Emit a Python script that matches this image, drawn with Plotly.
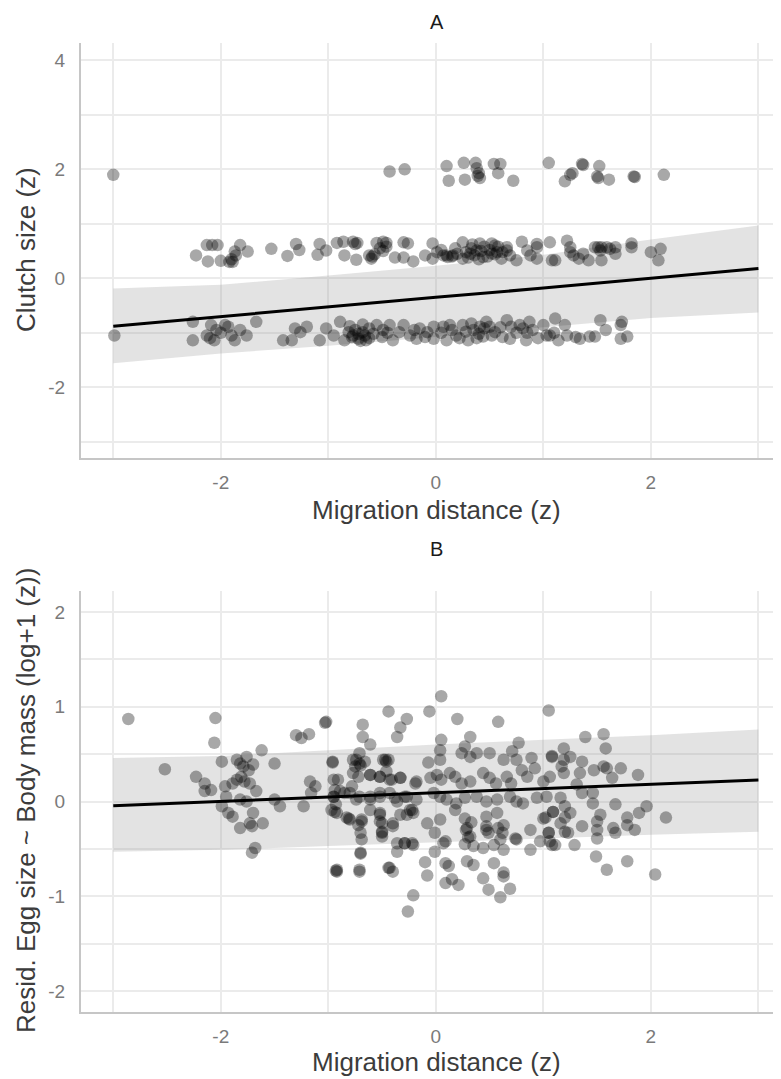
import plotly.graph_objects as go

# ---------------- Panel A data (Clutch size vs migration distance) ----------------
a_x = [
    # top band
    -3.0, -0.43, -0.29, 0.10, 0.12, 0.26, 0.27, 0.37, 0.38, 0.40, 0.41, 0.39, 0.54, 0.60, 0.58, 0.72,
    1.05, 1.20, 1.25, 1.27, 1.36, 1.37, 1.52, 1.50, 1.51, 1.61, 1.84, 1.85, 2.12,
    # middle band, left
    -2.23, -2.13, -2.12, -2.08, -2.03, -2.0, -1.92, -1.89, -1.90, -1.87, -1.86, -1.82, -1.75, -1.53,
    -1.38, -1.30, -1.27, -1.10, -1.08, -1.02, -0.92, -0.86, -0.85, -0.77, -0.75, -0.73, -0.74, -0.62,
    -0.59, -0.60, -0.57, -0.55, -0.52, -0.49, -0.49, -0.46, -0.46, -0.38, -0.30, -0.30, -0.26, -0.21,
    -0.10, -0.03, -0.03,
    # middle band, right
    0.25, 0.34, 0.41, 0.52, 0.55, 0.66, 0.80, 0.94, 0.94, 1.06, 1.22, 1.25, 1.51, 1.54, 1.67, 1.82,
    1.82, 2.0, 2.09,
    0.01, 0.07, 0.11, 0.16, 0.25, 0.32, 0.38, 0.44, 0.52, 0.57, 0.61, 0.69, 0.75, 0.66, 0.85, 0.88,
    0.94, 1.08, 1.11, 1.25, 1.28, 1.33, 1.37, 1.42, 1.48, 1.53, 1.59, 1.62, 1.67, 1.54, 2.07,
    0.10, 0.15, 0.20, 0.28, 0.33, 0.36, 0.42, 0.45, 0.48, 0.50, 0.55, 0.58, 0.62, 0.40, 0.30, 0.18, 0.05,
    # bottom band, left
    -2.99, -2.26, -2.26, -2.13, -2.09, -2.06, -2.04, -1.96, -1.93, -1.90, -1.87, -1.82, -1.76, -1.67,
    -2.0, -2.1, -1.42, -1.34, -1.31, -1.26, -1.20,
    -1.08, -1.02, -0.95, -0.89, -0.85, -0.81, -0.77, -0.72, -0.68, -0.65, -0.62, -0.55, -0.49, -0.43,
    -0.40, -0.34, -0.30, -0.24, -0.18, -0.15, -0.08, -0.02,
    -0.78, -0.72, -0.70, -0.66, -0.62, -0.75, -0.58, -0.80, -0.68, -0.5, -0.45, -0.2, -0.1,
    # bottom band, right
    -0.02, 0.07, 0.10, 0.13, 0.19, 0.25, 0.30, 0.33, 0.41, 0.44, 0.47, 0.50, 0.55, 0.66, 0.69, 0.70,
    0.78, 0.81, 0.84, 0.87, 0.90, 1.00, 1.03, 1.06, 1.11, 1.14, 1.20, 1.22, 1.34, 1.43, 1.48, 1.53,
    1.58, 1.72, 1.73, 1.72, 1.78,
    0.05, 0.15, 0.22, 0.35, 0.38, 0.45, 0.52, 0.6, 0.62, 0.75, 0.95, 1.1, 1.3, 0.85, 0.4, 0.28,
]
a_y = [
    1.90, 1.96, 2.00, 2.06, 1.79, 2.12, 1.81, 2.12, 2.02, 1.93, 1.84, 1.88, 2.10, 2.10, 1.93, 1.79,
    2.12, 1.78, 1.90, 1.93, 2.10, 2.08, 2.06, 1.87, 1.84, 1.81, 1.87, 1.86, 1.90,
    0.42, 0.61, 0.31, 0.61, 0.61, 0.32, 0.30, 0.30, 0.35, 0.49, 0.42, 0.61, 0.49, 0.54,
    0.41, 0.63, 0.52, 0.43, 0.63, 0.51, 0.65, 0.67, 0.42, 0.67, 0.63, 0.65, 0.34, 0.42,
    0.40, 0.36, 0.44, 0.65, 0.55, 0.67, 0.50, 0.65, 0.58, 0.38, 0.66, 0.38, 0.64, 0.31,
    0.42, 0.36, 0.64,
    0.66, 0.62, 0.64, 0.64, 0.60, 0.57, 0.67, 0.63, 0.57, 0.66, 0.69, 0.57, 0.57, 0.57, 0.57, 0.64,
    0.57, 0.48, 0.54,
    0.48, 0.42, 0.39, 0.42, 0.36, 0.45, 0.51, 0.39, 0.45, 0.48, 0.36, 0.42, 0.33, 0.51, 0.51, 0.42,
    0.36, 0.33, 0.33, 0.48, 0.42, 0.36, 0.45, 0.33, 0.57, 0.51, 0.57, 0.54, 0.45, 0.33, 0.33,
    0.42, 0.40, 0.45, 0.48, 0.55, 0.42, 0.50, 0.58, 0.40, 0.52, 0.44, 0.58, 0.48, 0.35, 0.38, 0.55, 0.52,
    -1.05, -0.80, -1.14, -1.05, -0.86, -1.14, -0.95, -0.86, -0.89, -1.05, -1.14, -0.95, -1.05, -0.80,
    -1.0, -1.1, -1.14, -1.14, -0.92, -0.99, -0.89,
    -1.14, -0.92, -1.05, -0.80, -1.14, -0.99, -1.05, -1.11, -0.99, -1.14, -0.92, -0.86, -0.95, -0.86,
    -1.14, -0.99, -0.86, -1.05, -1.11, -0.92, -0.99, -0.89,
    -1.08, -1.02, -1.15, -1.05, -1.10, -0.95, -1.02, -0.88, -0.85, -1.08, -1.0, -0.95, -1.08,
    -1.11, -0.89, -1.14, -0.86, -1.05, -0.86, -1.14, -0.83, -0.89, -1.07, -0.80, -0.89, -0.99, -0.77,
    -1.11, -0.89, -0.86, -0.92, -1.14, -0.80, -0.95, -0.86, -1.05, -1.05, -0.74, -1.14, -0.86, -1.05,
    -1.11, -1.07, -1.07, -0.77, -0.95, -0.86, -0.80, -1.11, -1.07,
    -1.0, -0.95, -1.1, -0.95, -1.1, -0.92, -1.05, -0.9, -1.08, -1.0, -1.1, -1.0, -1.08, -1.0, -1.02, -0.98,
]

# regression line + confidence band, panel A
a_fit_x = [-3, -2, -1, 0, 1, 2, 3]
a_fit_y = [-0.88, -0.70, -0.53, -0.35, -0.18, 0.0, 0.18]
a_upper = [-0.19, -0.12, 0.05, 0.23, 0.43, 0.71, 0.97]
a_lower = [-1.56, -1.38, -1.24, -1.08, -0.90, -0.73, -0.63]

# ---------------- Panel B data (residual egg size) ----------------
b_x = [
    -2.86, -2.05, -2.06, -2.52, -2.23, -2.15, -2.15, -2.09, -1.99,
    -1.85, -1.82, -1.79, -1.76, -1.74, -1.70, -1.62, -1.50,
    -1.96, -1.95, -1.89, -1.85, -1.81, -1.78, -1.73, -1.67, -1.82, -1.76,
    -1.99, -1.93, -1.89, -1.82, -1.73, -1.70, -1.71, -1.61,
    -1.71, -1.68, -1.50, -1.45,
    -1.30, -1.25, -1.18, -1.17, -1.12, -1.16, -1.23,
    -1.03, -1.02, -0.96, -0.95, -0.94, -0.95, -0.93, -0.94, -0.93,
    -0.92, -0.71, -0.70, -0.44, -0.33, -0.36, -0.27,
    -0.68, -0.68, -0.61, -0.71, -0.74, -0.75, -0.77,
    -0.61, -0.52, -0.43, -0.33, -0.47, -0.44,
    -0.89, -0.80, -0.71, -0.61, -0.52, -0.43, -0.36, -0.27, -0.19,
    -0.97, -0.83, -0.80, -0.69, -0.61, -0.52, -0.52, -0.50, -0.50, -0.40, -0.33, -0.24, -0.21,
    -0.36, -0.29, -0.22, -0.43,
    0.05, -0.06, 0.20, 0.58, 1.05,
    0.05, 0.04, 0.32, 0.27, 0.77, 1.19,
    -0.96, -0.77, -0.71, -0.49, -0.46, -0.07, 0.04, 0.24, 0.32, 0.38, 0.50, 0.63, 0.71, 0.75, 0.89, 1.08, 1.19,
    -0.91, -0.78, -0.72, -0.61, -0.52, -0.46, -0.41, -0.33, -0.18, -0.05, 0.01, 0.05, 0.13, 0.18, 0.24,
    0.32, 0.44, 0.50, 0.56, 0.66, 0.70, 0.80, 0.85, 0.92, 1.00, 1.06, 1.19,
    -0.95, -0.85, -0.74, -0.61, -0.52, -0.38, -0.29, -0.18, -0.02, 0.04, 0.10, 0.19, 0.27, 0.38, 0.47,
    0.57, 0.69, 0.75, 0.81, 0.94, 1.03, 1.16, 1.20,
    -0.92, -0.81, -0.69, -0.52, -0.50, -0.50, -0.40, -0.27, -0.22, -0.08, 0.04, -0.01, 0.09, 0.18, 0.27,
    0.29, 0.32, 0.47, 0.47, 0.49, 0.57, 0.63, 0.74, 0.88, 1.00, 1.05, 1.09, 1.16, 1.20,
    -0.36, -0.29, -0.21, -0.01, 0.07, 0.35, 0.44, 0.54, 0.63, 0.75, 0.88, 0.97, 1.08,
    -0.92, -0.71, -0.70, -0.44, -0.40, -0.10, -0.08, 0.09, 0.12, 0.09, 0.15, 0.21, 0.29, 0.35, 0.44,
    0.54, 0.49, 0.63, 0.63, 0.69, 0.60, -0.21, -0.26,
    0.28, 0.30, 0.27, 0.33, 0.62, 0.60, 0.58, -0.70, -0.66, -0.72, -0.70, -0.69, 0.47,
    1.39, 1.56, 1.58, 1.25, 1.08, 1.17,
    1.36, 1.34, 1.31, 1.47, 1.56, 1.59, 1.64, 1.72, 1.88,
    1.36, 1.46, 1.46, 1.67, 1.96, 1.89, 2.14,
    1.02, 1.09, 1.20, 1.25, 1.36, 1.50, 1.53, 1.50, 1.50, 1.65, 1.67, 1.78, 1.78, 1.85,
    1.05, 1.06, 1.11, 1.23, 1.29,
    1.49, 1.59, 1.78, 2.04,
]
b_y = [
    0.87, 0.88, 0.62, 0.34, 0.26, 0.19, 0.11, 0.12, 0.42,
    0.44, 0.40, 0.37, 0.47, 0.33, 0.39, 0.54, 0.40,
    0.16, 0.05, 0.19, 0.23, 0.26, 0.21, 0.19, 0.11, 0.02, 0.00,
    -0.05, -0.12, -0.16, -0.28, -0.23, -0.12, -0.26, -0.23,
    -0.54, -0.49, 0.02, -0.05,
    0.70, 0.67, 0.71, 0.21, 0.16, 0.09, -0.05,
    0.83, 0.84, 0.41, 0.23, 0.12, 0.05, -0.03, -0.11, -0.73,
    -0.72, -0.72, -0.54, 0.95, 0.78, 0.68, 0.87,
    0.81, 0.68, 0.60, 0.51, 0.44, 0.37, 0.30,
    0.28, 0.26, 0.23, 0.25, 0.44, 0.44,
    0.11, 0.09, 0.05, 0.02, 0.05, 0.09, 0.00, 0.05, 0.19,
    -0.09, -0.17, -0.19, -0.19, -0.09, -0.12, -0.21, -0.32, -0.37, -0.26, -0.14, -0.09, -0.12,
    -0.44, -0.44, -0.44, -0.70,
    1.11, 0.95, 0.87, 0.84, 0.96,
    0.65, 0.54, 0.68, 0.58, 0.62, 0.56,
    0.42, 0.44, 0.40, 0.44, 0.42, 0.41, 0.44, 0.51, 0.47, 0.51, 0.51, 0.44, 0.53, 0.44, 0.46, 0.48, 0.44,
    0.23, 0.16, 0.26, 0.28, 0.26, 0.32, 0.23, 0.25, 0.21, 0.25, 0.28, 0.23, 0.30, 0.26, 0.19,
    0.21, 0.30, 0.25, 0.19, 0.26, 0.19, 0.33, 0.26, 0.35, 0.21, 0.26, 0.30,
    0.05, 0.09, 0.02, 0.05, 0.09, 0.04, 0.05, 0.02, 0.09, 0.05, 0.02, -0.02, 0.04, 0.05, 0.00,
    0.02, 0.05, 0.00, -0.02, 0.04, 0.05, 0.04, -0.05,
    -0.12, -0.18, -0.21, -0.14, -0.23, -0.33, -0.23, -0.14, -0.09, -0.23, -0.19, -0.33, -0.42, -0.09, -0.18,
    -0.28, -0.37, -0.16, -0.26, -0.33, -0.12, -0.25, -0.39, -0.30, -0.18, -0.33, -0.11, -0.23, -0.32,
    -0.53, -0.44, -0.46, -0.53, -0.44, -0.47, -0.49, -0.46, -0.51, -0.40, -0.51, -0.42, -0.46,
    -0.74, -0.74, -0.55, -0.70, -0.74, -0.64, -0.78, -0.65, -0.68, -0.86, -0.82, -0.88, -0.63, -0.67, -0.81,
    -0.65, -0.93, -0.75, -0.79, -0.92, -1.01, -0.99, -1.16,
    -0.30, -0.38, -0.45, -0.22, -0.33, -0.40, -0.28, 0.38, 0.42, -0.25, -0.33, -0.40, -0.30,
    0.68, 0.71, 0.56, 0.47, 0.47, 0.37,
    0.42, 0.30, 0.18, 0.33, 0.37, 0.35, 0.25, 0.35, 0.28,
    0.09, 0.09, -0.02, -0.03, -0.05, -0.12, -0.17,
    -0.17, -0.11, -0.17, -0.12, -0.26, -0.21, -0.14, -0.30, -0.39, -0.28, -0.33, -0.17, -0.25, -0.30,
    -0.33, -0.42, -0.46, -0.33, -0.46,
    -0.58, -0.72, -0.63, -0.77,
]

b_fit_x = [-3, -2, -1, 0, 1, 2, 3]
b_fit_y = [-0.045, 0.0, 0.046, 0.09, 0.137, 0.183, 0.228]
b_upper = [0.46, 0.48, 0.54, 0.60, 0.65, 0.70, 0.76]
b_lower = [-0.53, -0.51, -0.47, -0.43, -0.39, -0.35, -0.32]

# ---------------- figure ----------------
PAGE_W, PAGE_H = 781, 1079
OFF = 8  # default body margin of the html page
W, H = PAGE_W - OFF, PAGE_H - OFF
FONT = "Liberation Sans, Arial, sans-serif"
PT_COLOR = "rgba(0,0,0,0.34)"
BAND_COLOR = "rgba(153,153,153,0.28)"

fig = go.Figure()

def add_panel(xs, ys, fx, fy, up, lo, xa, ya):
    fig.add_trace(go.Scatter(x=fx, y=lo, mode="lines", line=dict(width=0, color=BAND_COLOR),
                             hoverinfo="skip", showlegend=False, xaxis=xa, yaxis=ya))
    fig.add_trace(go.Scatter(x=fx, y=up, mode="lines", line=dict(width=0, color=BAND_COLOR),
                             fill="tonexty", fillcolor=BAND_COLOR,
                             hoverinfo="skip", showlegend=False, xaxis=xa, yaxis=ya))
    fig.add_trace(go.Scatter(x=xs, y=ys, mode="markers",
                             marker=dict(size=12.5, color=PT_COLOR, line=dict(width=0)),
                             showlegend=False, xaxis=xa, yaxis=ya))
    fig.add_trace(go.Scatter(x=fx, y=fy, mode="lines", line=dict(color="black", width=3),
                             showlegend=False, xaxis=xa, yaxis=ya))

add_panel(a_x, a_y, a_fit_x, a_fit_y, a_upper, a_lower, "x", "y")
add_panel(b_x, b_y, b_fit_x, b_fit_y, b_upper, b_lower, "x2", "y2")

def px2paper(px):
    return (px - OFF) / W

def py2paper(py):
    return 1 - (py - OFF) / H

GRID = "#ebebeb"
AXLINE = "#c6c6c6"
TICKC = "#7a7a7a"
TITLEC = "#3c3c3c"

xcommon = dict(range=[-3.30, 3.21], tickvals=[-2, 0, 2], ticktext=["-2", "0", "2"],
               showgrid=True, gridcolor=GRID, gridwidth=2,
               minor=dict(tickvals=[-3, -1, 1, 3], showgrid=True, gridcolor=GRID, gridwidth=1.6),
               zeroline=False, showline=True, linecolor=AXLINE, linewidth=2,
               ticks="", ticklabelstandoff=6, automargin=False,
               tickfont=dict(family=FONT, size=19, color=TICKC),
               domain=[px2paper(81), 1.0], fixedrange=True)

ycommon = dict(showgrid=True, gridcolor=GRID, gridwidth=2, zeroline=False,
               showline=True, linecolor=AXLINE, linewidth=2, ticks="", ticklabelstandoff=10,
               automargin=False,
               tickfont=dict(family=FONT, size=19, color=TICKC), fixedrange=True)

fig.update_layout(
    width=W, height=H,
    margin=dict(l=0, r=0, t=0, b=0, pad=0),
    paper_bgcolor="white", plot_bgcolor="white",
    xaxis=dict(**xcommon, anchor="y"),
    xaxis2=dict(**xcommon, anchor="y2"),
    yaxis=dict(**ycommon, anchor="x", range=[-3.30, 4.32],
               tickvals=[-2, 0, 2, 4], ticktext=["-2", "0", "2", "4"],
               minor=dict(tickvals=[-3, -1, 1, 3], showgrid=True, gridcolor=GRID, gridwidth=1.6),
               domain=[py2paper(458), py2paper(43)]),
    yaxis2=dict(**ycommon, anchor="x2", range=[-2.22, 2.22],
                tickvals=[-2, -1, 0, 1, 2], ticktext=["-2", "-1", "0", "1", "2"],
                minor=dict(tickvals=[-1.5, -0.5, 0.5, 1.5], showgrid=True, gridcolor=GRID, gridwidth=1.6),
                domain=[py2paper(1012), py2paper(591)]),
    showlegend=False,
)

def ann(text, x, y, size, color, angle=0):
    fig.add_annotation(text=text, x=px2paper(x), y=py2paper(y), xref="paper", yref="paper",
                       xanchor="center", yanchor="middle", showarrow=False, textangle=angle,
                       font=dict(family=FONT, size=size, color=color))

ann("A", 437, 22, 20, "#1a1a1a")
ann("Migration distance (z)", 437, 510, 26, TITLEC)
ann("Clutch size (z)", 26, 250, 26, TITLEC, -90)
ann("B", 437, 549, 20, "#1a1a1a")
ann("Migration distance (z)", 437, 1062, 26, TITLEC)
ann("Resid. Egg size ~ Body mass (log+1 (z))", 26, 801, 26, TITLEC, -90)

fig.write_html("out.html")
